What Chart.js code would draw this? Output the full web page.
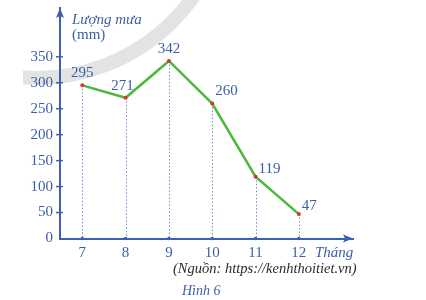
<!DOCTYPE html>
<html>
<head>
<meta charset="utf-8">
<script src="https://cdn.jsdelivr.net/npm/chart.js@4/dist/chart.umd.min.js"></script>
<style>
html,body{margin:0;padding:0;background:#fff;}
canvas{display:block;}
</style>
</head>
<body>
<canvas id="c" width="426" height="300"></canvas>
<script>
const months = [7, 8, 9, 10, 11, 12];
const rainfall = [295, 271, 342, 260, 119, 47];
const yTickValues = [0, 50, 100, 150, 200, 250, 300, 350];
const yTitleLines = ['Lượng mưa', '(mm)'];
const xTitle = 'Tháng';
const sourceText = '(Nguồn: https://kenhthoitiet.vn)';
const figureText = 'Hình 6';

const BLUE = '#3a62b0';
const TEXT = '#3d5ea6';
const SERIF = "'Liberation Serif', 'DejaVu Serif', serif";

const decor = {
  id: 'decor',
  beforeDraw(chart) {
    const ctx = chart.ctx;
    ctx.save();
    ctx.fillStyle = '#fff';
    ctx.fillRect(0, 0, chart.width, chart.height);
    ctx.beginPath();
    ctx.rect(23, 0, chart.width, chart.height);
    ctx.clip();
    ctx.strokeStyle = '#e3e3e3';
    ctx.lineWidth = 14;
    ctx.beginPath();
    ctx.arc(36, -115, 193, 0, Math.PI * 2);
    ctx.stroke();
    ctx.restore();
  },
  beforeDatasetsDraw(chart) {
    const ctx = chart.ctx;
    const xs = chart.scales.x, ys = chart.scales.y;
    const y0 = ys.getPixelForValue(0);
    ctx.save();
    ctx.strokeStyle = '#6a8fd0';
    ctx.lineWidth = 1;
    ctx.setLineDash([1.5, 2]);
    months.forEach((m, i) => {
      const px = Math.round(xs.getPixelForValue(m)) + 0.5;
      ctx.beginPath();
      ctx.moveTo(px, ys.getPixelForValue(rainfall[i]));
      ctx.lineTo(px, y0);
      ctx.stroke();
    });
    ctx.restore();
  },
  afterDatasetsDraw(chart) {
    const ctx = chart.ctx;
    const xs = chart.scales.x, ys = chart.scales.y;
    const ca = chart.chartArea;
    const y0 = ys.getPixelForValue(0);
    ctx.save();
    ctx.strokeStyle = BLUE;
    ctx.lineWidth = 1.5;
    yTickValues.forEach(v => {
      if (v === 0) return;
      const py = ys.getPixelForValue(v);
      ctx.beginPath();
      ctx.moveTo(ca.left - 4, py);
      ctx.lineTo(ca.left + 3, py);
      ctx.stroke();
    });
    ctx.fillStyle = BLUE;
    months.forEach(m => {
      ctx.beginPath();
      ctx.arc(xs.getPixelForValue(m), y0, 1.8, 0, Math.PI * 2);
      ctx.fill();
    });
    ctx.beginPath();
    ctx.moveTo(ca.left, ca.top);
    ctx.lineTo(ca.left - 4, ca.top + 10);
    ctx.lineTo(ca.left, ca.top + 8);
    ctx.lineTo(ca.left + 4, ca.top + 10);
    ctx.closePath();
    ctx.fill();
    ctx.beginPath();
    ctx.moveTo(ca.right, y0);
    ctx.lineTo(ca.right - 10, y0 - 4);
    ctx.lineTo(ca.right - 8, y0);
    ctx.lineTo(ca.right - 10, y0 + 4);
    ctx.closePath();
    ctx.fill();
    ctx.fillStyle = TEXT;
    ctx.font = '15px ' + SERIF;
    ctx.textBaseline = 'middle';
    months.forEach((m, i) => {
      const px = xs.getPixelForValue(m);
      const py = ys.getPixelForValue(rainfall[i]);
      if (i < 3) {
        ctx.textAlign = 'center';
        ctx.fillText(String(rainfall[i]), px - (i === 1 ? 3 : 0), py - 12);
      } else {
        ctx.textAlign = 'left';
        ctx.fillText(String(rainfall[i]), px + 3, py - (i === 3 ? 12 : 8));
      }
    });
    ctx.textAlign = 'left';
    ctx.font = 'italic 15px ' + SERIF;
    ctx.fillText(yTitleLines[0], ca.left + 12, 20);
    ctx.font = '15px ' + SERIF;
    ctx.fillText(yTitleLines[1], ca.left + 12, 35);
    ctx.font = 'italic 15px ' + SERIF;
    ctx.fillText(xTitle, 315, 253);
    ctx.fillStyle = '#2a2a2a';
    ctx.font = 'italic 14.5px ' + SERIF;
    ctx.fillText(sourceText, 173, 269);
    ctx.fillStyle = TEXT;
    ctx.font = 'italic 14px ' + SERIF;
    ctx.fillText(figureText, 182, 291);
    ctx.restore();
  }
};

new Chart(document.getElementById('c'), {
  type: 'line',
  data: {
    datasets: [{
      data: months.map((m, i) => ({ x: m, y: rainfall[i] })),
      borderColor: '#4cb83c',
      borderWidth: 2.5,
      pointBackgroundColor: '#e03030',
      pointBorderColor: '#e03030',
      pointRadius: 2,
      pointBorderWidth: 0,
      tension: 0,
      fill: false
    }]
  },
  options: {
    responsive: false,
    animation: false,
    layout: { padding: { left: 0, top: 8, right: 73, bottom: 0 } },
    plugins: { legend: { display: false }, tooltip: { enabled: false } },
    scales: {
      x: {
        type: 'linear',
        min: 6.485,
        max: 13.25,
        afterBuildTicks: s => { s.ticks = months.map(v => ({ value: v })); },
        afterFit: s => { s.height = 61.5; s.paddingLeft = 0; s.paddingRight = 0; },
        grid: { display: false, drawTicks: false },
        border: { display: true, color: BLUE, width: 2 },
        ticks: { color: TEXT, font: { family: SERIF, size: 15 }, padding: 6, maxRotation: 0, autoSkip: false }
      },
      y: {
        type: 'linear',
        min: 0,
        max: 444,
        afterBuildTicks: s => { s.ticks = yTickValues.map(v => ({ value: v })); },
        afterFit: s => { s.width = 60; s.paddingTop = 0; s.paddingBottom = 0; },
        grid: { display: false, drawTicks: false },
        border: { display: true, color: BLUE, width: 2 },
        ticks: { color: TEXT, font: { family: SERIF, size: 15 }, padding: 7, autoSkip: false }
      }
    }
  },
  plugins: [decor]
});
</script>
</body>
</html>
